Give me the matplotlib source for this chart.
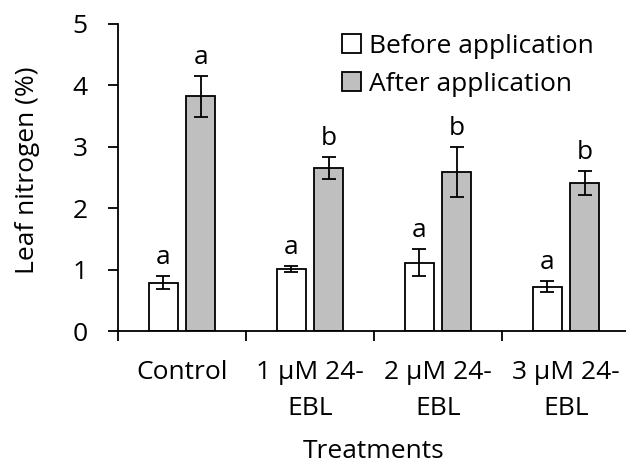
import numpy as np
import matplotlib.pyplot as plt

plt.rcParams['font.family'] = ['Open Sans', 'DejaVu Sans']

# Leaf nitrogen before/after application
treatments = ['Control', '1 μM 24-\nEBL', '2 μM 24-\nEBL', '3 μM 24-\nEBL']
before = [0.79, 1.01, 1.11, 0.72]
before_err = [0.11, 0.05, 0.22, 0.09]
after = [3.82, 2.65, 2.59, 2.41]
after_err = [0.33, 0.18, 0.40, 0.19]
letters_before = ['a', 'a', 'a', 'a']
letters_after = ['a', 'b', 'b', 'b']

fs = 19
x = np.arange(len(treatments))
w = 0.226
off = 0.145

fig = plt.figure(figsize=(6.26, 4.69), dpi=100)
ax = fig.add_axes([0.1885, 0.294, 0.818, 0.655])

ekw = dict(ecolor='black', elinewidth=1.3, capsize=5, capthick=1.3)
ax.bar(x - off, before, w, yerr=before_err, color='white', edgecolor='black',
       linewidth=1.3, error_kw=ekw, label='Before application')
ax.bar(x + off, after, w, yerr=after_err, color='#bfbfbf', edgecolor='black',
       linewidth=1.3, error_kw=ekw, label='After application')

for i in range(len(x)):
    ax.text(x[i] - off, before[i] + before_err[i] + 0.1, letters_before[i],
            ha='center', va='bottom', fontsize=fs)
    ax.text(x[i] + off, after[i] + after_err[i] + 0.1, letters_after[i],
            ha='center', va='bottom', fontsize=fs)

ax.set_xlim(-0.5, 3.5)
ax.set_ylim(0, 5)
ax.set_yticks([0, 1, 2, 3, 4, 5])
ax.set_xticks(np.arange(-0.5, 4, 1))
ax.set_xticklabels([])
ax.set_xticks(x, minor=True)
ax.set_xticklabels(treatments, minor=True, fontsize=fs, linespacing=1.55)
ax.tick_params(axis='x', which='minor', length=0, pad=21)
ax.tick_params(axis='x', which='major', length=7, width=1.3, direction='out')
ax.tick_params(axis='y', length=7, width=1.3, labelsize=fs, pad=15)

for s in ['top', 'right']:
    ax.spines[s].set_visible(False)
for s in ['left', 'bottom']:
    ax.spines[s].set_linewidth(1.3)

ax.set_ylabel('Leaf nitrogen (%)', fontsize=fs)
ax.yaxis.set_label_coords(-0.152, 0.525)
ax.set_xlabel('Treatments', fontsize=fs, labelpad=13)

ax.legend(loc='upper right', bbox_to_anchor=(0.975, 1.045), frameon=False,
          fontsize=fs, handlelength=0.72, handleheight=0.72, handletextpad=0.3,
          labelspacing=0.5)

fig.savefig('out.png', dpi=100)
